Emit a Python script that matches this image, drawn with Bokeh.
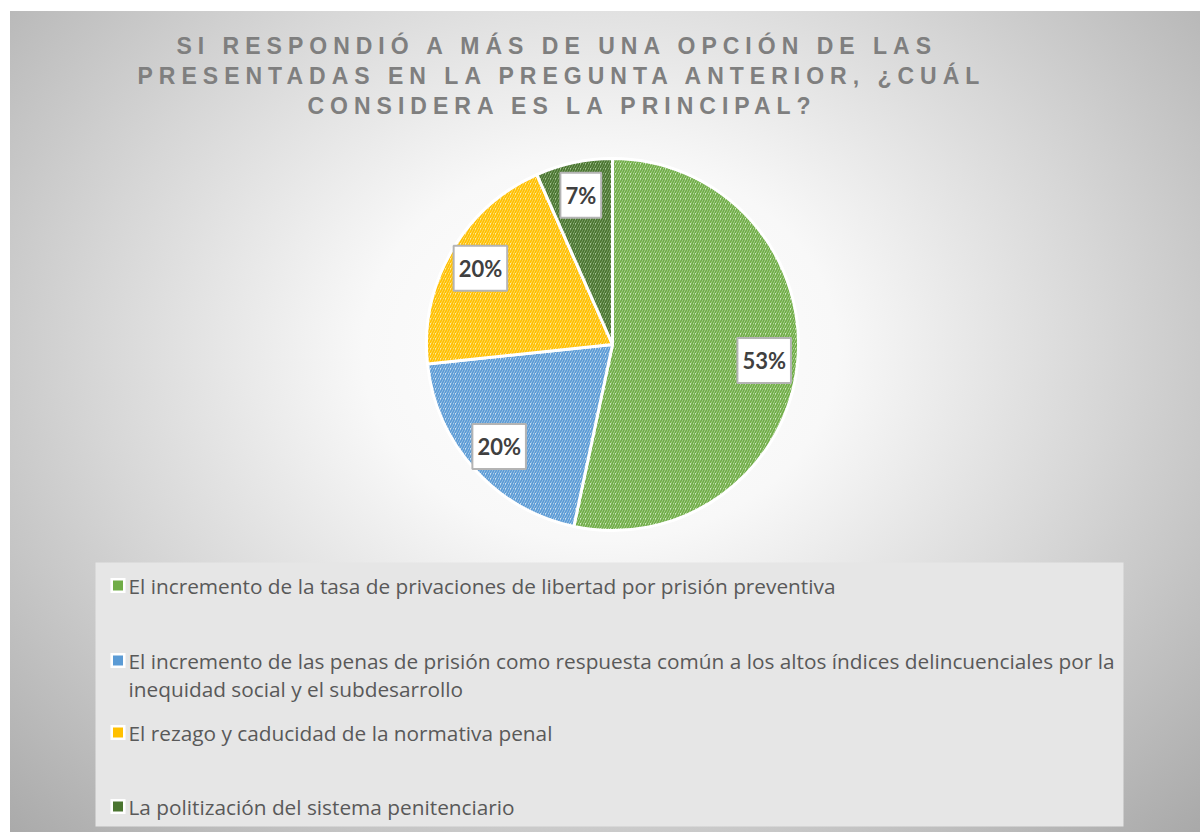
import math
import textwrap
from bokeh.plotting import figure
from bokeh.models import ColumnDataSource, Range1d
from bokeh.layouts import column
from bokeh.core.properties import value
from bokeh.embed import file_html
from bokeh.resources import INLINE

# ---------------- data ----------------
title_lines = [
    "SI RESPONDIÓ A MÁS DE UNA OPCIÓN DE LAS",
    "PRESENTADAS EN LA PREGUNTA ANTERIOR, ¿CUÁL",
    "CONSIDERA ES LA PRINCIPAL?",
]
categories = [
    "El incremento de la tasa de privaciones de libertad por prisión preventiva",
    "El incremento de las penas de prisión como respuesta común a los altos índices delincuenciales por la inequidad social y el subdesarrollo",
    "El rezago y caducidad de la normativa penal",
    "La politización del sistema penitenciario",
]
counts = [16, 6, 6, 2]

# ---------------- styles ----------------
fill_colors = ["#cfe6bf", "#cde0f3", "#ffe8a3", "#a6c396"]
hatch_colors = ["#70ad47", "#5b9bd5", "#ffc000", "#4a7530"]

W = 1200
TH = 138
MH = 694


def bare(p):
    p.background_fill_color = None
    p.border_fill_color = None
    p.outline_line_color = None
    p.grid.visible = False
    return p


# title figure (letter-spaced via inherited CSS)
tf = bare(figure(width=W, height=TH, x_range=Range1d(0, W), y_range=Range1d(0, TH),
                 output_backend="svg", toolbar_location=None, min_border=0,
                 x_axis_location=None, y_axis_location=None))
tf.text(x=[176, 137, 307], y=[92.5, 62.5, 33], text=title_lines,
        text_font=value("Liberation Sans"), text_font_style="bold",
        text_font_size="23px", text_color="#7f7f7f",
        text_align="left", text_baseline="middle")
tf.styles = {"letter-spacing": "6px"}

# main figure
p = bare(figure(width=W, height=MH, x_range=Range1d(0, W), y_range=Range1d(0, MH),
                output_backend="svg", toolbar_location=None, min_border=0,
                x_axis_location=None, y_axis_location=None))

cx, cy, R = 612, 488, 186
total = sum(counts)
starts, ends, lx, ly, labels = [], [], [], [], []
cum = 0.0
for c in counts:
    f = c / total
    a0 = math.pi / 2 - 2 * math.pi * cum
    a1 = math.pi / 2 - 2 * math.pi * (cum + f)
    mid = (a0 + a1) / 2
    starts.append(a0)
    ends.append(a1)
    lx.append(cx + 0.82 * R * math.cos(mid))
    ly.append(cy + 0.82 * R * math.sin(mid))
    labels.append(f"{round(100 * f)}%")
    cum += f

src = ColumnDataSource(dict(start=starts, end=ends, fill=fill_colors, hatch=hatch_colors,
                            lx=lx, ly=ly, label=labels))
p.wedge(x=cx, y=cy, radius=R, start_angle="start", end_angle="end", direction="clock",
        fill_color="fill", hatch_color="hatch", hatch_pattern="/", hatch_scale=5,
        hatch_weight=1.8, line_color="white", line_width=3, source=src)

p.text(x="lx", y="ly", text="label", source=src,
       text_font=value("Lato"), text_font_style="bold", text_font_size="22px",
       text_color="#404040", text_align="center", text_baseline="middle",
       background_fill_color="white", border_line_color="#b4b4b4", border_line_width=2,
       padding=(5, 9))

# legend box
p.quad(left=95, right=1123, bottom=6, top=270, fill_color="#e6e6e6", line_color=None)

entry_y = [247, 172, 100, 26]
rows_x, rows_y, rows_t = [], [], []
for yy, cat in zip(entry_y, categories):
    for j, line in enumerate(textwrap.wrap(cat, 105)):
        rows_x.append(128)
        rows_y.append(yy - 28 * j)
        rows_t.append(line)

p.rect(x=[117.5] * len(entry_y), y=entry_y, width=15, height=15,
       fill_color="white", line_color=None)
p.rect(x=[117.5] * len(entry_y), y=entry_y, width=10, height=10,
       fill_color=hatch_colors, line_color=None)
p.text(x=rows_x, y=rows_y, text=rows_t, text_font=value("Open Sans"),
       text_font_size="20.8px", text_color="#595959",
       text_align="left", text_baseline="middle")

layout = column(tf, p, width=W, height=TH + MH, spacing=0, styles={
    "background": "radial-gradient(ellipse farthest-corner at 50% 42%, #ffffff 0%, #f8f8f8 28%, #d6d6d6 60%, #a9a9a9 100%)",
    "box-shadow": "inset 10px 11px 0 0 #ffffff",
})

open("out.html", "w").write(file_html(layout, INLINE))
